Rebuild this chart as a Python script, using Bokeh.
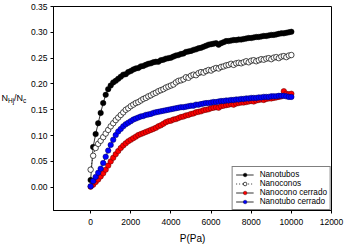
from bokeh.plotting import figure
from bokeh.layouts import row
from bokeh.models import Range1d, FixedTicker, NumeralTickFormatter, Legend, LegendItem
from bokeh.core.properties import value
from bokeh.embed import file_html
from bokeh.resources import INLINE

# ---------------- data ----------------
pressure = [0, 125, 250, 375, 500, 625, 750, 875, 1000, 1125,
            1250, 1375, 1500, 1625, 1750, 1875, 2000, 2125, 2250, 2375,
            2500, 2625, 2750, 2875, 3000, 3125, 3250, 3375, 3500, 3625,
            3750, 3875, 4000, 4125, 4250, 4375, 4500, 4625, 4750, 4875,
            5000, 5125, 5250, 5375, 5500, 5625, 5750, 5875, 6000, 6125,
            6250, 6375, 6500, 6625, 6750, 6875, 7000, 7125, 7250, 7375,
            7500, 7625, 7750, 7875, 8000, 8125, 8250, 8375, 8500, 8625,
            8750, 8875, 9000, 9125, 9250, 9375, 9500, 9625, 9750, 9875,
            10000]

nanotubos = [0.014, 0.078, 0.103, 0.124, 0.144, 0.163, 0.179, 0.190, 0.197, 0.203,
             0.206, 0.210, 0.214, 0.218, 0.219, 0.223, 0.225, 0.228, 0.230, 0.231,
             0.234, 0.235, 0.237, 0.239, 0.240, 0.242, 0.243, 0.243, 0.246, 0.247,
             0.249, 0.250, 0.251, 0.253, 0.255, 0.256, 0.258, 0.259, 0.262, 0.263,
             0.264, 0.266, 0.267, 0.269, 0.270, 0.272, 0.274, 0.276, 0.277, 0.278,
             0.279, 0.276, 0.279, 0.281, 0.283, 0.283, 0.284, 0.285, 0.285, 0.286,
             0.286, 0.287, 0.288, 0.289, 0.289, 0.290, 0.291, 0.291, 0.292, 0.293,
             0.293, 0.294, 0.295, 0.295, 0.296, 0.297, 0.298, 0.298, 0.299, 0.300,
             0.301]

nanoconos = [0.034, 0.061, 0.076, 0.084, 0.090, 0.097, 0.104, 0.111, 0.118, 0.124,
             0.130, 0.135, 0.140, 0.145, 0.150, 0.153, 0.157, 0.160, 0.163, 0.165,
             0.168, 0.171, 0.173, 0.176, 0.178, 0.181, 0.183, 0.186, 0.188, 0.190,
             0.193, 0.195, 0.197, 0.199, 0.203, 0.206, 0.207, 0.209, 0.213, 0.212,
             0.216, 0.218, 0.217, 0.221, 0.223, 0.222, 0.225, 0.227, 0.226, 0.229,
             0.231, 0.230, 0.233, 0.234, 0.236, 0.237, 0.239, 0.237, 0.240, 0.241,
             0.240, 0.242, 0.244, 0.242, 0.245, 0.246, 0.244, 0.246, 0.248, 0.247,
             0.249, 0.250, 0.248, 0.251, 0.252, 0.250, 0.253, 0.254, 0.252, 0.255,
             0.256]

nanocono_cerrado = [0.001, 0.005, 0.010, 0.015, 0.021, 0.027, 0.034, 0.042, 0.050, 0.057,
                    0.064, 0.070, 0.076, 0.081, 0.085, 0.089, 0.092, 0.095, 0.098, 0.101,
                    0.103, 0.105, 0.107, 0.109, 0.111, 0.113, 0.115, 0.118, 0.120, 0.123,
                    0.126, 0.128, 0.129, 0.131, 0.132, 0.134, 0.136, 0.137, 0.139, 0.140,
                    0.142, 0.143, 0.145, 0.146, 0.147, 0.149, 0.150, 0.151, 0.153, 0.154,
                    0.155, 0.154, 0.157, 0.158, 0.159, 0.160, 0.161, 0.160, 0.162, 0.163,
                    0.164, 0.164, 0.165, 0.166, 0.167, 0.166, 0.168, 0.169, 0.170, 0.169,
                    0.171, 0.172, 0.172, 0.173, 0.174, 0.175, 0.176, 0.186, 0.181, 0.180,
                    0.181]

nanotubo_cerrado = [0.002, 0.012, 0.020, 0.028, 0.036, 0.047, 0.059, 0.071, 0.082, 0.092,
                    0.101, 0.108, 0.113, 0.118, 0.122, 0.125, 0.128, 0.131, 0.133, 0.135,
                    0.137, 0.138, 0.140, 0.141, 0.142, 0.144, 0.145, 0.146, 0.147, 0.148,
                    0.149, 0.150, 0.151, 0.152, 0.153, 0.154, 0.155, 0.155, 0.156, 0.157,
                    0.158, 0.158, 0.160, 0.160, 0.161, 0.162, 0.163, 0.163, 0.164, 0.165,
                    0.165, 0.166, 0.167, 0.167, 0.168, 0.168, 0.169, 0.169, 0.170, 0.170,
                    0.171, 0.171, 0.172, 0.172, 0.173, 0.173, 0.173, 0.174, 0.174, 0.175,
                    0.175, 0.175, 0.176, 0.176, 0.176, 0.177, 0.177, 0.177, 0.176, 0.175,
                    0.175]

x_ticks = [0, 2000, 4000, 6000, 8000, 10000, 12000]
y_ticks = [0.00, 0.05, 0.10, 0.15, 0.20, 0.25, 0.30, 0.35]
series_names = ["Nanotubos", "Nanoconos", "Nanocono cerrado", "Nanotubo cerrado"]
x_title = "P(Pa)"
y_title_main = ["N", "/N"]     # y title N_Hj / N_c : main letters
y_title_sub = ["Hj", "c"]      # ... and subscripts

FONT = "Liberation Sans"
W, H = 350, 247
LW = 27  # strip on the left holding the y title

# ---------- strip with the y title (pixel coordinates, y measured from bottom) ----------
t = figure(width=LW, height=H, output_backend="svg", toolbar_location=None,
           x_range=Range1d(0, LW), y_range=Range1d(0, H),
           min_border_left=0, min_border_right=0, min_border_top=0, min_border_bottom=0)
t.axis.visible = False
t.grid.visible = False
t.outline_line_color = None
t.background_fill_color = "white"
t.border_fill_color = "white"
t.text(x=[1, 13.6], y=[H - 111, H - 111], text=y_title_main,
       text_font=value(FONT), text_font_size=value("9px"), text_color="black",
       text_align="left", text_baseline="alphabetic")
t.text(x=[7.5, 22.6], y=[H - 113.5, H - 113.5], text=y_title_sub,
       text_font=value(FONT), text_font_size=value("6.5px"), text_color="black",
       text_align="left", text_baseline="alphabetic")

# ---------- main chart ----------
p = figure(width=W - LW, height=H, output_backend="svg", toolbar_location=None,
           x_range=Range1d(-1850, 12000), y_range=Range1d(-0.045, 0.35),
           min_border_left=49 - LW, min_border_right=19, min_border_top=6, min_border_bottom=37)
p.xgrid.visible = False
p.ygrid.visible = False
p.outline_line_color = "black"
p.outline_line_width = 1
p.background_fill_color = "white"
p.border_fill_color = "white"

for ax in (p.xaxis[0], p.yaxis[0]):
    ax.axis_line_color = "black"
    ax.axis_line_width = 1
    ax.major_tick_line_color = "black"
    ax.major_tick_in = 0
    ax.major_tick_out = 3
    ax.minor_tick_line_color = None
    ax.major_label_text_font = FONT
    ax.major_label_text_font_size = "8.5px"
    ax.major_label_text_color = "black"
    ax.axis_label_text_font = FONT
    ax.axis_label_text_font_style = "normal"
    ax.axis_label_text_color = "black"

p.xaxis.ticker = FixedTicker(ticks=x_ticks)
p.xaxis.formatter = NumeralTickFormatter(format="0")
p.xaxis.major_label_standoff = 5
p.xaxis.axis_label = x_title
p.xaxis.axis_label_text_font_size = "10px"
p.xaxis.axis_label_standoff = 5

p.yaxis.ticker = FixedTicker(ticks=y_ticks)
p.yaxis.formatter = NumeralTickFormatter(format="0.00")
p.yaxis.major_label_standoff = 3

items = []
l1 = p.line(pressure, nanotubos, line_color="black", line_width=0.8)
s1 = p.scatter(pressure, nanotubos, size=5.5, fill_color="black", line_color="black", line_width=0.5)
items.append(LegendItem(label=series_names[0], renderers=[l1, s1]))

l2 = p.line(pressure, nanoconos, line_color="black", line_width=0.8, line_dash="1 2")
s2 = p.scatter(pressure, nanoconos, size=5.5, fill_color="white", line_color="black", line_width=0.7)
items.append(LegendItem(label=series_names[1], renderers=[l2, s2]))

l3 = p.line(pressure, nanocono_cerrado, line_color="black", line_width=0.8)
s3 = p.scatter(pressure, nanocono_cerrado, size=5.5, fill_color="#ff0000", line_color="#5a0000", line_width=0.5)
items.append(LegendItem(label=series_names[2], renderers=[l3, s3]))

l4 = p.line(pressure, nanotubo_cerrado, line_color="black", line_width=0.8)
s4 = p.scatter(pressure, nanotubo_cerrado, size=5.5, fill_color="#0000ff", line_color="#00005a", line_width=0.5)
items.append(LegendItem(label=series_names[3], renderers=[l4, s4]))

legend = Legend(items=items, location="bottom_right", margin=0, padding=3, spacing=0,
                glyph_width=18, glyph_height=9, label_height=9, label_standoff=6,
                label_text_font=FONT, label_text_font_size="8.2px", label_text_color="black",
                border_line_color="black", border_line_width=1,
                background_fill_color="white", background_fill_alpha=1)
p.add_layout(legend, "center")

layout = row(t, p, spacing=0)
open("out.html", "w").write(file_html(layout, INLINE))
